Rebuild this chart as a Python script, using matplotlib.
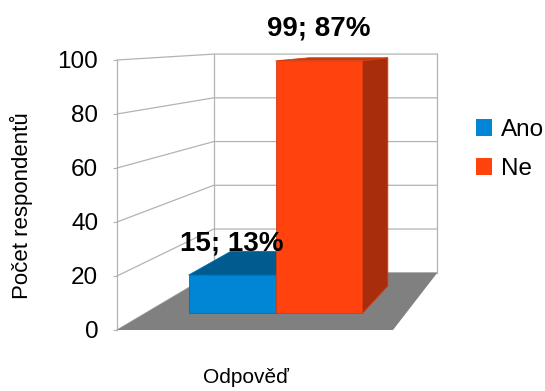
import matplotlib.pyplot as plt
from matplotlib.patches import Polygon, Patch

plt.rcParams['font.family'] = ['Liberation Sans', 'DejaVu Sans']

# data
series = ['Ano', 'Ne']
counts = [15, 99]
shares = [13, 87]
y_ticks = [0, 20, 40, 60, 80, 100]
x_title = 'Odpověď'
y_title = 'Počet respondentů'

# colours of the box faces
front_colors = ['#0086d4', '#ff420e']
top_colors = ['#005b8e', '#c9380e']
side_colors = ['#004a75', '#a82d0c']
edge_colors = ['#0070b0', '#d83a0c']
grid_color = '#b3b3b3'
floor_color = '#808080'

# simple perspective: the axes data space is the front plane,
# deeper points shrink towards a vanishing point
VP = (1.844, 111.5)
D0 = 4.26
BAR_Z = (0.25, 0.73)


def proj(x, y, z):
    s = D0 / (D0 + z)
    return (VP[0] + (x - VP[0]) * s, VP[1] + (y - VP[1]) * s)


fig = plt.figure(figsize=(5.45, 3.91), dpi=100)
ax = fig.add_axes([117 / 545, 61 / 391, 276 / 545, 270 / 391])
ax.set_xlim(0, 1)
ax.set_ylim(0, 100)
ax.patch.set_visible(False)
for sp in ax.spines.values():
    sp.set_visible(False)
ax.set_xticks([])
ax.set_yticks(y_ticks)
ax.tick_params(axis='y', length=3, width=0.8, color=grid_color, pad=10.5,
               labelsize=17.5)

ymax = y_ticks[-1]

# walls with grid
for t in y_ticks:
    pts = [proj(0, t, 0), proj(0, t, 1), proj(1, t, 1)]
    ax.plot([p[0] for p in pts], [p[1] for p in pts], color=grid_color,
            lw=0.9, clip_on=False, zorder=1)
for x, z in [(0, 0), (0, 1), (1, 1)]:
    a, b = proj(x, 0, z), proj(x, ymax, z)
    ax.plot([a[0], b[0]], [a[1], b[1]], color=grid_color, lw=0.9,
            clip_on=False, zorder=1)

# floor
floor = [proj(0, 0, 0), proj(1, 0, 0), proj(1, 0, 1), proj(0, 0, 1)]
ax.add_patch(Polygon(floor, closed=True, facecolor=floor_color,
                     edgecolor='none', clip_on=False, zorder=2))

# bars
n = len(series)
w = 1 / (n + 1)
z0, z1 = BAR_Z
for i, (v, pct) in enumerate(zip(counts, shares)):
    x0 = w / 2 + i * w
    x1 = x0 + w
    front = [proj(x0, 0, z0), proj(x1, 0, z0), proj(x1, v, z0), proj(x0, v, z0)]
    top = [proj(x0, v, z0), proj(x1, v, z0), proj(x1, v, z1), proj(x0, v, z1)]
    side = [proj(x1, 0, z0), proj(x1, 0, z1), proj(x1, v, z1), proj(x1, v, z0)]
    for poly, col in [(side, side_colors[i]), (top, top_colors[i]),
                      (front, front_colors[i])]:
        ax.add_patch(Polygon(poly, closed=True, facecolor=col,
                             edgecolor=edge_colors[i], lw=0.6,
                             clip_on=False, zorder=3 + i))
    ax.annotate(f'{v}; {pct}%', xy=proj((x0 + x1) / 2, v, z0),
                xytext=(0, 18), textcoords='offset points',
                ha='center', va='baseline', fontsize=20, fontweight='bold',
                annotation_clip=False, zorder=6)

ax.set_xlabel(x_title, fontsize=15)
ax.xaxis.set_label_coords(0.467, -0.14)
ax.set_ylabel(y_title, fontsize=16)
ax.yaxis.set_label_coords(-0.304, 0.46)

handles = [Patch(facecolor=c, edgecolor='none') for c in front_colors]
fig.legend(handles, series, loc='upper left',
           bbox_to_anchor=(476 / 545, 1 - 119 / 391), frameon=False,
           fontsize=17.5, handlelength=0.66, handleheight=0.66,
           handletextpad=0.35, labelspacing=0.7, borderpad=0,
           borderaxespad=0)

fig.savefig('out.png', dpi=100)
